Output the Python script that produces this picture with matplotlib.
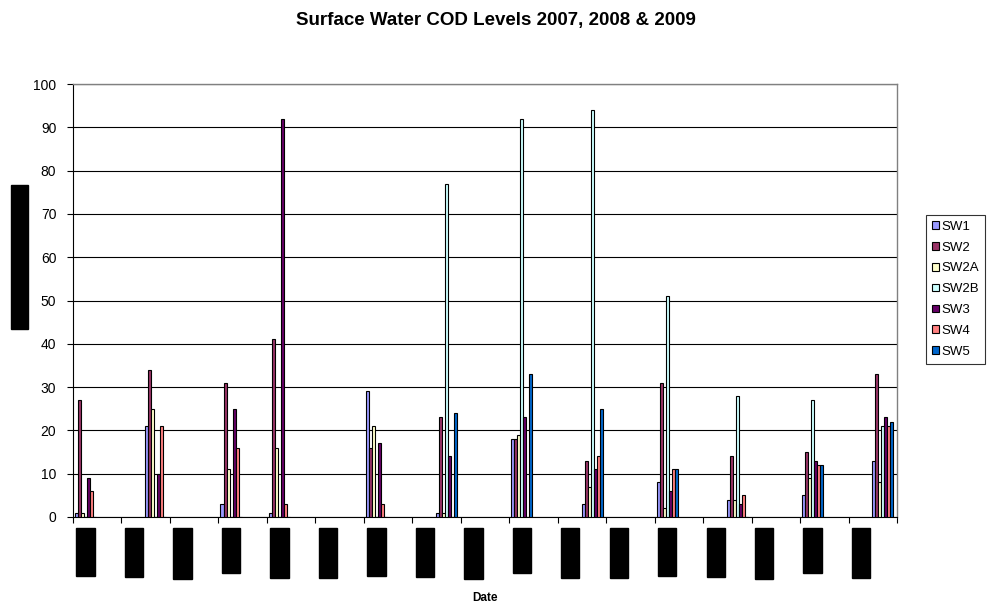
import matplotlib.pyplot as plt
import numpy as np

plt.rcParams['font.family'] = ['Liberation Sans', 'DejaVu Sans']

# axis runs in two-month steps, one unit per label
month_labels = ['Jan 2007', 'Mar 2007', 'May 2007', 'Jul 2007', 'Sep 2007', 'Nov 2007',
                'Jan 2008', 'Mar 2008', 'May 2008', 'Jul 2008', 'Sep 2008', 'Nov 2008',
                'Jan 2009', 'Mar 2009', 'May 2009', 'Jul 2009', 'Sep 2009']
# where each sampling round falls on that axis
sample_pos = [0, 1.45, 3, 4, 6, 7.45, 9, 10.45, 12, 13.45, 15, 16.45]

series = ['SW1', 'SW2', 'SW2A', 'SW2B', 'SW3', 'SW4', 'SW5']
sw1 = [1, 21, 3, 1, 29, 1, 18, 3, 8, 4, 5, 13]
sw2 = [27, 34, 31, 41, 16, 23, 18, 13, 31, 14, 15, 33]
sw2a = [1, 25, 11, 16, 21, 1, 19, 7, 2, 4, 9, 8]
sw2b = [0, 0, 0, 0, 0, 77, 92, 94, 51, 28, 27, 21]
sw3 = [9, 10, 25, 92, 17, 14, 23, 11, 6, 3, 13, 23]
sw4 = [6, 21, 16, 3, 3, 0, 0, 14, 11, 5, 12, 21]
sw5 = [0, 0, 0, 0, 0, 24, 33, 25, 11, 0, 12, 22]
colors = ['#9999FF', '#993366', '#FFFFCC', '#CCFFFF', '#660066', '#FF8080', '#0066CC']

values = [sw1, sw2, sw2a, sw2b, sw3, sw4, sw5]

fig = plt.figure(figsize=(9.92, 6.09), dpi=100)
ax = fig.add_axes([73 / 992, 92 / 609, 824 / 992, 433 / 609])

x = np.array(sample_pos)
w = 0.062
for i, (name, vals, c) in enumerate(zip(series, values, colors)):
    offs = (i - 3) * w
    ax.bar(x + offs, vals, width=w, color=c, edgecolor='black',
           linewidth=0.8, label=name, zorder=3)

ax.set_xlim(-0.26, 16.74)
ax.set_ylim(0, 100)
ax.set_yticks(range(0, 101, 10))
ax.yaxis.grid(True, color='black', linewidth=0.8, zorder=0)
ax.tick_params(axis='y', direction='out', length=4, width=0.8, labelsize=10, pad=8)

# tick marks sit between labels; labels are centred on the months
ax.set_xticks(np.arange(-0.26, 16.75, 1.0), minor=True)
ax.set_xticks(range(len(month_labels)))
ax.set_xticklabels(month_labels, rotation=90, fontsize=7, color='black', va='top',
                   bbox=dict(facecolor='black', edgecolor='black', pad=3))
ax.tick_params(axis='x', which='major', length=0, pad=11)
ax.tick_params(axis='x', which='minor', direction='out', length=4, width=0.8)

for s in ['left', 'bottom']:
    ax.spines[s].set_color('black')
    ax.spines[s].set_linewidth(0.8)
for s in ['top', 'right']:
    ax.spines[s].set_color('#808080')
    ax.spines[s].set_linewidth(1.0)

fig.text(0.5, 0.967, 'Surface Water COD Levels 2007, 2008 & 2009',
         ha='center', va='center', fontsize=13.5, fontweight='bold')
fig.text(0.489, 0.018, 'Date', ha='center', va='center', fontsize=8.5, fontweight='bold')
fig.text(0.0197, 0.578, 'COD Concentration (mg/l)', rotation=90, ha='center', va='center',
         fontsize=8, fontweight='bold', color='black',
         bbox=dict(facecolor='black', edgecolor='black', pad=2.5))

leg = fig.legend(loc='upper left', bbox_to_anchor=(926 / 992, 1 - 215 / 609),
                 fontsize=9.5, frameon=True, fancybox=False, shadow=False,
                 handlelength=0.5, handleheight=0.5, handletextpad=0.25,
                 labelspacing=0.665, borderpad=0.45, borderaxespad=0)
leg.get_frame().set_edgecolor('black')
leg.get_frame().set_linewidth(0.8)

fig.savefig('out.png', dpi=100)
